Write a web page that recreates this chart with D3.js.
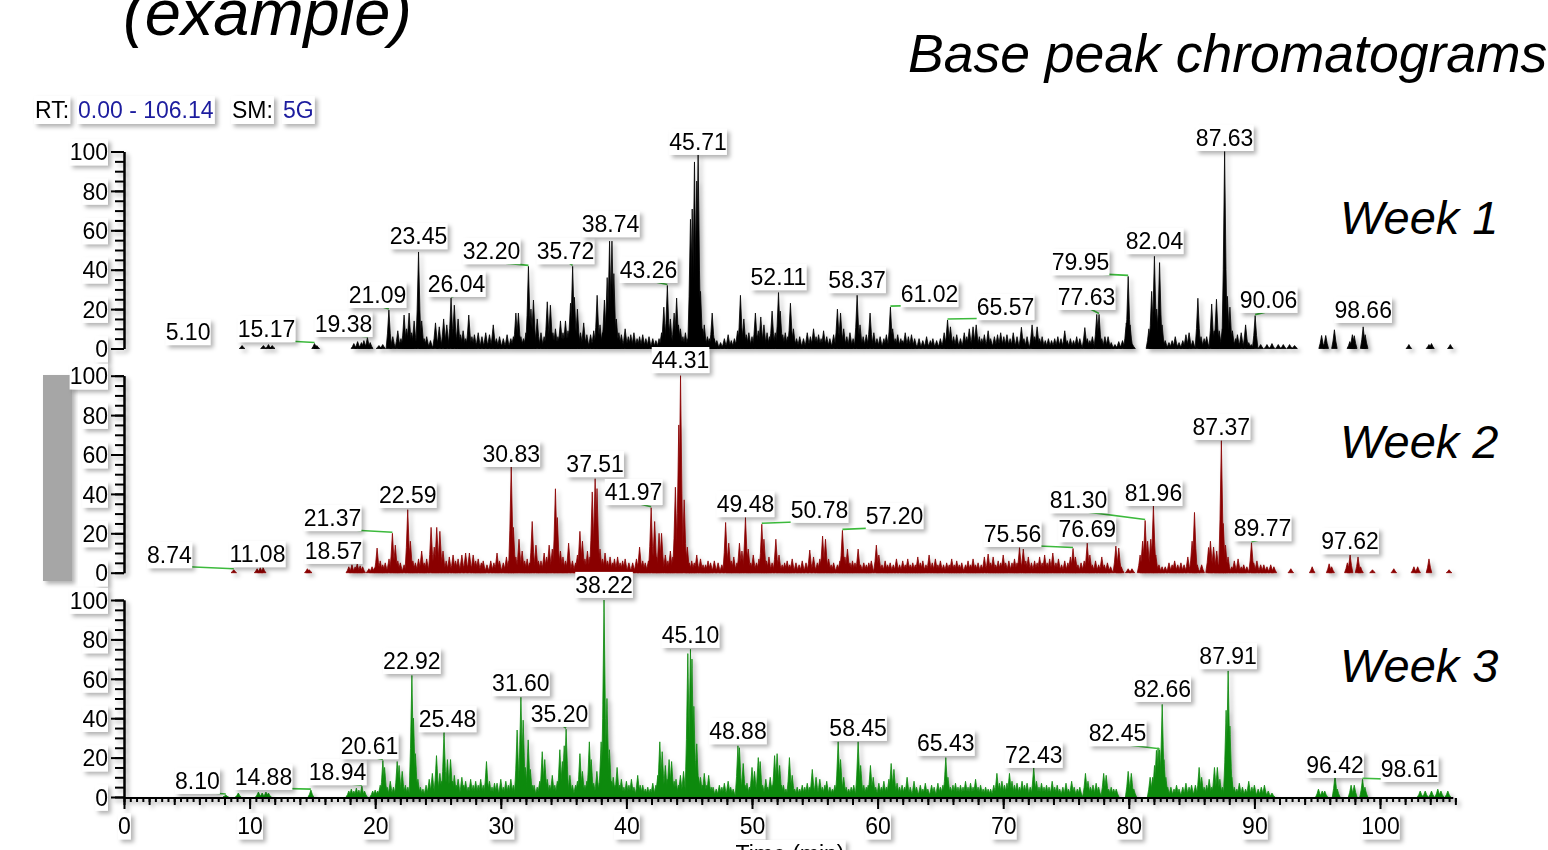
<!DOCTYPE html>
<html>
<head>
<meta charset="utf-8">
<script src="https://cdnjs.cloudflare.com/ajax/libs/d3/7.8.5/d3.min.js"></script>
<style>
  body { margin: 0; background: #fff; }
  svg { display: block; font-family: "Liberation Sans", Arial, sans-serif; }
</style>
</head>
<body>
<svg id="chart" width="1548" height="850"></svg>
<script>
// DATA: spikes are [retention time (min), relative abundance], labels are [peak rt, label centre rt, label level]
const rtStart = 0.00, rtEnd = 106.14;
const weekNames = ["Week 1", "Week 2", "Week 3"];
const weekColors = ["#000000", "#8a0000", "#0b8a0b"];
const yTicksMajor = [0, 20, 40, 60, 80, 100];
const xTickLabels = [0, 10, 20, 30, 40, 50, 60, 70, 80, 90, 100];

const week1Peaks = [[5.10,0],[9.4,1.5],[11.1,1.5],[11.5,2],[11.8,1.5],[15.17,2.5],[15.35,1.5],
[18.3,2.5],[18.6,3.5],[18.9,3],[19.1,4],[19.38,5.5],[19.6,3],[20.3,1.5],[20.6,2],
[21.09,19.5],[21.4,6],[21.8,9],[22.05,5],[22.3,17],[22.5,10],[22.7,18],[22.9,8],[23.1,14],[23.45,49],[23.7,14],[23.9,5],[24.1,6],[24.4,4],[24.8,13],[25.1,11],[25.45,15],[25.7,12],[26.04,25.6],[26.3,22],[26.6,15],[26.8,7],[27.0,9],[27.2,5],[27.45,17],[27.7,6],[27.9,7],[28.2,8],[28.5,6],[28.8,8],[29.1,7],[29.4,12],[29.65,5],[29.9,6],[30.2,5],[30.5,7],[30.8,5],[31.0,6],[31.2,18],[31.4,18],[31.6,6],[31.8,5],[32.0,8],[32.2,41.7],[32.4,20],[32.6,24.6],[32.9,15],[33.2,8],[33.45,6],[33.7,23.7],[33.95,22],[34.15,8],[34.35,10],[34.55,6],[34.75,14],[34.95,8],[35.15,14],[35.35,9],[35.55,23],[35.72,41.7],[35.86,26],[36.1,20],[36.35,8],[36.6,13],[36.85,7],[37.15,7],[37.4,9],[37.67,27],[37.9,12],[38.1,8],[38.25,24.6],[38.47,36],[38.66,54.5],[38.85,54.5],[39.0,38],[39.2,15],[39.4,8],[39.6,7],[39.9,10],[40.15,6],[40.35,7],[40.6,8],[40.85,5],[41.05,6],[41.3,7],[41.55,5],[41.8,6],[42.1,5],[42.35,4],[42.6,5],[42.8,8],[42.98,21],[43.26,32],[43.5,15],[43.8,18],[44.0,25.6],[44.15,12],[44.3,10],[44.5,6],[44.7,8],[44.9,5],[45.1,65.6],[45.24,70.8],[45.42,94.7],[45.6,85],[45.71,98.5],[45.9,29],[46.05,10],[46.2,12],[46.45,6],[46.6,5],[46.83,18],[47.0,5],[47.2,4],[47.5,3],[47.8,5],[48.1,7],[48.35,4],[48.6,5],[48.85,9],[49.08,27],[49.35,15],[49.55,7],[49.75,8],[50.0,6],[50.27,18],[50.5,9],[50.7,16],[50.95,12],[51.2,8],[51.4,6],[51.6,19],[51.85,8],[52.11,28.4],[52.25,19],[52.45,7],[52.65,8],[52.85,6],[53.06,23],[53.3,10],[53.55,5],[53.8,6],[54.1,5],[54.4,8],[54.65,6],[54.9,10],[55.1,6],[55.3,7],[55.5,5],[55.7,9],[55.95,6],[56.2,5],[56.5,7],[56.8,20],[57.05,18],[57.3,10],[57.55,6],[57.8,8],[58.05,5],[58.37,27],[58.6,12],[58.85,6],[59.1,7],[59.4,18],[59.7,8],[59.95,5],[60.2,6],[60.5,5],[60.7,7],[61.02,21],[61.2,10],[61.4,5],[61.6,7],[61.85,5],[62.0,4],[62.2,8],[62.45,6],[62.7,7],[62.95,5],[63.3,5],[63.6,4],[63.9,6],[64.2,4],[64.4,5],[64.7,4],[65.0,5],[65.3,8],[65.57,14.5],[65.8,11],[66.05,6],[66.3,7],[66.6,5],[66.9,8],[67.1,6],[67.3,10],[67.6,11],[67.85,12],[68.1,6],[68.3,5],[68.5,7],[68.8,9],[69.0,5],[69.3,6],[69.55,7],[69.8,8],[70.05,6],[70.3,7],[70.55,5],[70.8,8],[71.1,6],[71.45,10.8],[71.65,5],[71.9,6],[72.3,12],[72.5,6],[72.7,11],[72.9,5],[73.1,6],[73.35,4],[73.6,5],[73.85,4],[74.1,5],[74.35,6],[74.6,5],[74.9,9],[75.1,4],[75.35,5],[75.6,4],[75.85,6],[76.1,5],[76.5,10.6],[76.7,5],[76.9,4],[77.1,6],[77.45,17.3],[77.63,17.3],[77.85,5],[78.1,6],[78.35,6],[78.6,3],[78.9,2],[79.2,3.5],[79.5,4],[79.8,13],[79.95,36.6],[80.1,12],[80.3,2],
[81.6,10],[81.82,29],[82.04,46.8],[82.22,20],[82.45,43.6],[82.65,12],[82.9,4],[83.2,3],[83.45,4],[83.7,6],[84.0,3],[84.3,4],[84.55,7],[84.8,8],[85.1,4],[85.5,25.5],[85.75,6],[86.0,5],[86.2,6],[86.6,22.6],[86.8,9],[86.98,25],[87.2,9],[87.45,10],[87.63,100],[87.85,26.5],[88.05,21],[88.25,9],[88.5,5],[88.65,7],[88.95,8],[89.3,12],[89.55,3],[89.75,2],[90.06,16.7],[90.5,2],[91.0,2],[91.4,2.5],[91.9,2],[92.3,2],[92.8,2],[93.2,1.5],
[95.35,6.6],[95.68,6.6],[96.37,9.5],[97.6,3.5],[97.8,7],[97.95,6.5],[98.66,11],[98.82,7],[102.3,2],[103.9,2],[104.1,2.5],[105.6,2]];

const week2Peaks = [[8.74,1.5],[10.6,2],[10.85,2.5],[11.08,2.5],[14.6,2],[14.75,1.5],
[17.9,3],[18.15,4],[18.4,3],[18.57,4.5],[18.8,3.5],[19.0,3],[19.5,2],[19.75,3],[19.95,2.5],
[20.15,12.5],[20.4,6],[20.6,4],[20.8,5],[21.1,7],[21.37,20],[21.6,14],[21.8,6],[22.0,5],[22.3,4],[22.59,32],[22.8,16],[23.0,6],[23.2,5],[23.45,7],[23.7,11],[23.9,5],[24.1,7],[24.45,23],[24.7,13],[24.9,23],[25.15,21],[25.4,11],[25.65,6],[25.9,8],[26.2,9],[26.4,6],[26.6,7],[26.9,9],[27.2,10],[27.5,10],[27.8,9],[28.0,6],[28.2,7],[28.45,5],[28.6,6],[28.9,4],[29.2,6],[29.45,5],[29.7,10],[29.9,6],[30.2,5],[30.45,8],[30.65,6],[30.83,54],[31.0,23],[31.2,8],[31.45,17],[31.7,11],[31.9,6],[32.1,7],[32.3,5],[32.5,26],[32.8,14],[33.0,6],[33.2,6],[33.45,10],[33.65,8],[33.85,14],[34.1,12],[34.35,42.6],[34.5,28],[34.75,11],[34.95,8],[35.15,6],[35.4,15],[35.7,6],[35.95,5],[36.1,9],[36.3,21],[36.5,16],[36.7,7],[36.9,11],[37.1,8],[37.28,41],[37.51,47.7],[37.66,42.7],[37.9,12],[38.1,7],[38.3,10],[38.5,6],[38.7,8],[38.9,5],[39.05,7],[39.3,8],[39.5,5],[39.7,6],[39.9,7],[40.2,5],[40.5,5],[40.8,7],[41.05,13],[41.3,6],[41.5,5],[41.75,6],[41.97,33],[42.25,26],[42.4,8],[42.6,20],[42.8,20],[43.1,9],[43.3,6],[43.5,11],[43.7,8],[43.9,43.4],[44.17,75],[44.31,100],[44.6,37],[44.85,13],[45.0,5],[45.2,6],[45.4,5],[45.6,9],[45.9,7],[46.1,4],[46.3,4],[46.5,6],[46.7,5],[47.0,6],[47.3,5],[47.6,4],[47.9,25.5],[48.15,15],[48.35,6],[48.55,8],[48.8,5],[49.0,15],[49.2,11],[49.48,28],[49.7,12],[49.9,5],[50.1,9],[50.35,5],[50.55,7],[50.78,24.6],[50.95,17],[51.15,6],[51.35,8],[51.6,5],[51.9,17],[52.15,9],[52.4,4],[52.6,5],[52.8,6],[53.0,4],[53.2,7],[53.5,5],[53.75,4],[54.0,6],[54.3,5],[54.6,11.5],[54.9,8],[55.2,5],[55.4,7],[55.62,18.6],[55.85,17],[56.1,7],[56.3,4],[56.5,5],[56.8,4],[57.0,6],[57.2,21.5],[57.4,8],[57.6,12],[57.8,5],[58.0,6],[58.2,5],[58.45,12],[58.65,4],[58.9,5],[59.1,4],[59.3,5],[59.5,6],[59.9,14],[60.1,9],[60.35,4],[60.6,6],[60.8,4],[61.0,5],[61.25,4],[61.5,7],[61.75,4],[62.0,6],[62.2,4],[62.4,7],[62.6,4],[62.8,5],[63.0,4],[63.2,8],[63.4,5],[63.6,6],[63.85,4],[64.1,9],[64.35,5],[64.6,7],[64.8,4],[65.0,6],[65.25,4],[65.5,5],[65.7,4],[65.9,7],[66.1,4],[66.3,6],[66.5,4],[66.7,5],[67.0,4],[67.2,6],[67.4,4],[67.6,7],[67.8,4],[68.0,5],[68.25,4],[68.5,8],[68.8,9.5],[69.0,5],[69.2,8],[69.4,4],[69.6,6],[69.8,5],[70.0,9],[70.2,5],[70.45,6],[70.7,5],[70.9,7],[71.1,5],[71.3,12.7],[71.6,12],[71.8,6],[72.0,8],[72.25,5],[72.5,6],[72.7,5],[72.9,8],[73.1,5],[73.3,9],[73.5,5],[73.7,7],[73.95,10],[74.2,5],[74.4,7],[74.65,4],[74.9,6],[75.15,5],[75.35,8],[75.56,12.3],[75.75,8],[75.95,4],[76.2,5],[76.45,6],[76.69,15],[76.9,9],[77.1,4],[77.35,6],[77.6,4],[77.85,8],[78.05,4],[78.3,5],[78.55,3],[78.97,13.5],[79.2,12.5],[79.4,3],[79.95,2],[80.25,2],
[80.9,9],[81.1,16],[81.3,26.5],[81.5,16],[81.75,17],[81.96,34],[82.15,9],[82.4,4],[82.65,3],[82.9,3],[83.2,5],[83.45,4],[83.65,6],[83.9,4],[84.15,5],[84.4,4],[84.7,8],[85.04,16],[85.23,30.6],[85.45,4],[85.8,4],[86.35,12.8],[86.5,16],[86.75,13],[87.0,11],[87.15,4],[87.37,67],[87.52,25],[87.7,14],[87.9,8],[88.2,3],[88.4,6],[88.7,7],[88.95,3],[89.15,4],[89.4,3],[89.77,15.2],[89.95,5],[90.2,6],[90.5,4],[90.75,4],[91.0,3],[91.3,4],[91.55,3],
[92.9,2],[94.6,3],[95.95,4.5],[96.15,3],[97.4,5],[97.62,9],[98.25,8],[98.45,3],[99.4,1.5],[101.1,2],[102.7,3],[103.0,3],[103.9,7],[105.5,1.5]];

const week3Peaks = [[8.10,1],[9.1,2],[10.7,2.5],[11.0,2],[11.3,2.5],[11.5,2],[14.88,3.5],
[17.9,3],[18.1,4],[18.3,3],[18.5,4.5],[18.7,3.5],[18.94,5.5],[19.15,3],[19.8,3],[20.0,3.5],[20.2,3],
[20.4,6],[20.61,18.5],[20.75,15],[20.95,5],[21.2,8],[21.45,5],[21.75,18],[21.9,16],[22.15,13],[22.4,6],[22.6,5],[22.92,61.7],[23.05,40],[23.2,22],[23.4,9],[23.6,5],[23.8,4],[24.05,6],[24.3,9],[24.55,12],[24.88,21],[25.15,12],[25.3,8],[25.48,32.7],[25.75,19],[26.0,19],[26.15,8],[26.3,11],[26.45,6],[26.6,9],[26.9,10],[27.05,6],[27.2,8],[27.4,5],[27.6,9],[27.8,6],[28.0,8],[28.2,6],[28.4,9],[28.6,6],[28.86,18],[29.1,8],[29.3,5],[29.5,7],[29.7,7],[30.0,9],[30.2,5],[30.4,8],[30.6,6],[30.8,9],[31.0,6],[31.3,34],[31.6,50.6],[31.78,39],[31.95,15],[32.18,29],[32.35,14],[32.5,6],[32.65,6],[32.9,5],[33.1,8],[33.3,23],[33.5,19],[33.7,9],[33.9,6],[34.1,11],[34.3,6],[34.5,8],[34.7,24],[34.9,18],[35.05,26],[35.2,34.4],[35.5,11],[35.7,6],[35.95,6],[36.1,8],[36.3,22],[36.5,13],[36.7,6],[36.85,8],[37.05,28],[37.2,19],[37.4,7],[37.65,13],[37.85,7],[37.99,28],[38.22,100],[38.45,50],[38.65,24],[38.8,8],[38.95,10],[39.1,6],[39.26,15],[39.45,6],[39.6,9],[39.8,5],[40.0,8],[40.2,6],[40.4,9],[40.6,5],[40.9,11],[41.1,6],[41.3,6],[41.5,4],[41.7,5],[41.9,4],[42.1,7],[42.35,6],[42.5,11],[42.66,28],[42.85,23],[43.1,16],[43.25,9],[43.4,19],[43.6,18],[43.8,8],[43.95,9],[44.15,6],[44.3,11],[44.55,13],[44.89,72.8],[45.1,75],[45.22,70],[45.37,46],[45.6,27],[45.75,10],[45.9,10],[46.05,6],[46.2,12],[46.4,6],[46.55,11],[46.75,5],[46.9,5],[47.15,4],[47.4,6],[47.6,5],[47.8,7],[48.1,8],[48.3,5],[48.5,4],[48.88,26],[49.0,25],[49.3,17],[49.45,6],[49.6,7],[49.8,5],[50.0,15],[50.2,13],[50.5,20],[50.65,18],[50.85,6],[51.1,9],[51.25,5],[51.45,10],[51.6,6],[51.8,21],[52.0,22],[52.2,16],[52.35,6],[52.5,6],[52.7,4],[52.98,20],[53.2,11],[53.4,4],[53.6,5],[53.8,4],[54.0,6],[54.2,5],[54.4,7],[54.6,5],[54.8,14],[55.1,10],[55.4,9],[55.6,5],[55.8,6],[55.95,8],[56.2,5],[56.4,4],[56.6,6],[56.86,28],[57.05,19],[57.3,10],[57.5,5],[57.7,4],[57.9,5],[58.1,6],[58.45,28],[58.65,16],[58.9,6],[59.1,5],[59.25,6],[59.43,16],[59.65,10],[59.85,5],[60.1,7],[60.3,5],[60.5,8],[60.7,5],[60.9,9],[61.08,17],[61.3,14],[61.55,7],[61.75,5],[61.95,6],[62.15,5],[62.35,10],[62.6,5],[62.9,8],[63.1,5],[63.4,6],[63.6,4],[63.8,7],[64.0,4],[64.3,6],[64.5,5],[64.8,7],[65.0,5],[65.2,6],[65.43,20],[65.6,10],[65.8,5],[66.0,6],[66.2,7],[66.4,5],[66.6,6],[66.8,5],[67.0,8],[67.2,5],[67.4,7],[67.6,5],[67.8,9],[68.0,5],[68.2,6],[68.4,4],[68.6,5],[68.8,4],[69.0,4],[69.25,6],[69.5,12],[69.7,7],[69.9,8],[70.1,6],[70.3,7],[70.5,12],[70.7,8],[70.9,6],[71.1,7],[71.3,5],[71.5,8],[71.7,6],[71.9,7],[72.15,5],[72.43,15],[72.65,8],[72.85,5],[73.05,7],[73.25,5],[73.45,6],[73.65,5],[73.9,8],[74.1,5],[74.3,6],[74.5,4],[74.75,5],[75.0,7],[75.2,4],[75.45,8],[75.65,5],[75.9,4],[76.1,5],[76.55,12],[76.75,8],[76.95,5],[77.15,6],[77.4,7],[77.6,5],[78.0,12],[78.2,11],[78.4,4],[78.6,5],[78.8,4],[79.0,4],[79.95,13],[80.2,12],[80.4,4],
[81.7,10],[81.9,10],[82.05,16],[82.2,23.7],[82.33,25],[82.45,24],[82.66,47],[82.8,19],[82.95,10],[83.1,5],[83.35,5],[83.6,4],[83.8,6],[84.0,4],[84.3,5],[84.55,7],[84.8,5],[85.0,6],[85.3,6],[85.6,15],[85.8,10],[86.0,5],[86.2,6],[86.4,9],[86.6,5],[86.82,15],[87.05,15],[87.25,9],[87.45,5],[87.75,44],[87.91,64],[88.05,36],[88.2,10],[88.4,5],[88.6,4],[88.8,7],[89.05,5],[89.3,4],[89.55,8],[89.8,5],[90.0,6],[90.3,4],[90.55,5],[90.8,6],[91.1,3],[91.4,2],
[95.1,4],[95.4,3],[95.6,3],[96.42,11],[96.6,4],[97.7,6],[97.95,6],[98.61,9],[98.8,5],[103.2,3],[103.6,3],[104.1,3],[104.6,4],[104.85,3],[105.4,3]];

const week1Labels = [[5.10,5.10,4.3],[15.17,11.35,5.8],[19.38,17.48,8.4],[21.09,20.18,23.1],[23.45,23.45,53.0],[26.04,26.47,28.7],[32.20,29.26,45.4],[35.72,35.15,45.4],[38.74,38.74,59.1],[43.26,41.76,35.8],[45.71,45.71,100.8],[52.11,52.11,32.2],[58.37,58.37,30.7],[61.02,64.13,23.6],[65.57,70.18,17.0],[77.63,76.63,22.1],[79.95,76.15,39.8],[82.04,82.04,50.5],[87.63,87.63,102.8],[90.06,91.12,20.6],[98.66,98.66,15.5]];
const week2Labels = [[8.74,3.62,4.9],[11.08,10.63,5.4],[18.57,16.68,7.0],[21.37,16.6,23.7],[22.59,22.59,35.4],[30.83,30.83,56.2],[37.51,37.51,51.1],[41.97,40.57,36.9],[44.31,44.31,103.9],[49.48,49.48,30.8],[50.78,55.37,27.8],[57.20,61.35,24.7],[75.56,70.74,15.6],[76.69,76.69,18.1],[81.30,76.0,32.8],[81.96,81.96,36.4],[87.37,87.37,69.9],[89.77,90.64,18.6],[97.62,97.62,12.0]];
const week3Labels = [[8.10,5.85,4.1],[14.88,11.1,6.1],[18.94,17.0,8.6],[20.61,19.55,21.8],[22.92,22.92,65.0],[25.48,25.76,35.5],[31.60,31.60,53.8],[35.20,34.67,38.1],[38.22,38.22,103.6],[45.10,45.10,78.2],[48.88,48.88,29.4],[58.45,58.45,31.0],[65.43,65.43,23.4],[72.43,72.43,17.3],[82.45,79.1,28.4],[82.66,82.66,50.8],[87.91,87.91,67.5],[96.42,96.42,12.2],[98.61,102.35,10.2]];

const weekPeaks = [week1Peaks, week2Peaks, week3Peaks];
const weekLabels = [week1Labels, week2Labels, week3Labels];

// LAYOUT
const panelBase = [348.5, 572.7, 797];
const panelH = 197;
const svg = d3.select("#chart");

const defs = svg.append("defs");
const shadow = defs.append("filter").attr("id", "shadow")
    .attr("x", "-10%").attr("y", "-10%").attr("width", "130%").attr("height", "140%");
shadow.append("feDropShadow").attr("dx", 3).attr("dy", 3).attr("stdDeviation", 2)
    .attr("flood-color", "#000").attr("flood-opacity", 0.3);

const x = d3.scaleLinear().domain([rtStart, rtEnd]).range([124, 124 + (rtEnd - rtStart) * 12.56]);

// white box behind a text element
function boxify(textSel, pad) {
    textSel.each(function () {
        const bb = this.getBBox();
        d3.select(this.parentNode).insert("rect", () => this)
            .attr("x", bb.x - pad).attr("y", bb.y - pad)
            .attr("width", bb.width + 2 * pad).attr("height", bb.height + 2 * pad)
            .attr("fill", "#fff");
    });
}

// titles
svg.append("text").attr("x", 123).attr("y", 35)
    .style("font-size", "65px").style("font-style", "italic").text("(example)");
svg.append("text").attr("x", 908).attr("y", 72)
    .style("font-size", "53.5px").style("font-style", "italic").text("Base peak chromatograms");

// RT / SM header
const header = [["RT:", 35, "#000"], ["0.00 - 106.14", 78, "#1c1c9e"], ["SM:", 232, "#000"], ["5G", 283, "#1c1c9e"]];
header.forEach(([t, hx, c]) => {
    const g = svg.append("g").attr("filter", "url(#shadow)");
    const tx = g.append("text").attr("x", hx).attr("y", 118).attr("fill", c)
        .style("font-size", "23px").text(t);
    boxify(tx, 1);
});

// gray side bar
svg.append("rect").attr("x", 43).attr("y", 375).attr("width", 29).attr("height", 206)
    .attr("fill", "#a6a6a6").attr("filter", "url(#shadow)");

const spikeW = 0.22;
function spikePoints(d) {
    const rt = d[0], h = d[1];
    return [[rt - spikeW, 0], [rt - spikeW * 0.5, h * 0.4], [rt, h], [rt + spikeW * 0.5, h * 0.4], [rt + spikeW, 0]];
}

weekNames.forEach((name, i) => {
    const y = d3.scaleLinear().domain([0, 100]).range([panelBase[i], panelBase[i] - panelH]);
    const panel = svg.append("g");
    const color = weekColors[i];

    // trace
    const line = d3.line().x(d => x(d[0])).y(d => y(d[1]));
    panel.append("g").attr("filter", "url(#shadow)")
        .selectAll("path")
        .data(weekPeaks[i].filter(d => d[1] > 0))
        .enter()
        .append("path")
        .attr("d", d => line(spikePoints(d)) + "Z")
        .attr("fill", color)
        .attr("stroke", color)
        .attr("stroke-width", 0.8);

    // y axis
    const yAxisG = panel.append("g").attr("filter", "url(#shadow)")
        .attr("transform", `translate(${x(0)},0)`);
    yAxisG.append("g")
        .call(d3.axisLeft(y).tickValues(d3.range(0, 101, 5)).tickSize(9).tickSizeOuter(0).tickFormat(""));
    const major = yAxisG.append("g")
        .call(d3.axisLeft(y).tickValues(yTicksMajor).tickSize(13).tickSizeOuter(0).tickPadding(3));
    yAxisG.selectAll("line, path").attr("stroke", "#000").attr("stroke-width", 2);
    major.selectAll("text").style("font-size", "23px").style("font-family", "Liberation Sans, Arial, sans-serif")
        .attr("fill", "#000").attr("dy", "0.36em");
    boxify(major.selectAll("text"), 0);

    // baseline / x axis
    if (i < 2) {
        panel.append("line").attr("filter", "url(#shadow)")
            .attr("x1", x(rtStart)).attr("x2", x(rtEnd) - 4)
            .attr("y1", y(0)).attr("y2", y(0))
            .attr("stroke", "#000").attr("stroke-width", 2);
    } else {
        const xAxisG = panel.append("g").attr("filter", "url(#shadow)")
            .attr("transform", `translate(0,${y(0) + 1})`);
        xAxisG.append("g").call(d3.axisBottom(x).tickValues(d3.range(0, 106.1, 0.5)).tickSize(4).tickSizeOuter(0).tickFormat(""));
        xAxisG.append("g").call(d3.axisBottom(x).tickValues(d3.range(0, 106.1, 2)).tickSize(7).tickSizeOuter(0).tickFormat(""));
        const xm = xAxisG.append("g").call(d3.axisBottom(x).tickValues(xTickLabels).tickSize(11).tickSizeOuter(0).tickPadding(9));
        xAxisG.selectAll("line, path").attr("stroke", "#000").attr("stroke-width", 2);
        xAxisG.selectAll("path").attr("d", `M${x(rtStart)},0H${x(rtEnd) - 4}`);
        xm.selectAll("text").style("font-size", "23px").style("font-family", "Liberation Sans, Arial, sans-serif").attr("fill", "#000");
        boxify(xm.selectAll("text"), 0);

        const tl = svg.append("g").attr("filter", "url(#shadow)");
        const tt = tl.append("text").attr("x", 790).attr("y", 862).attr("text-anchor", "middle")
            .style("font-size", "23px").text("Time (min)");
        boxify(tt, 1);
    }

    // peak labels with green leader lines
    weekLabels[i].forEach(([rt, lrt, lv]) => {
        const pk = weekPeaks[i].find(p => p[0] === rt);
        const ph = pk ? pk[1] : 0;
        const tx = x(lrt), ty = y(lv);
        if (Math.abs(lrt - rt) > 0.05) {
            panel.append("line")
                .attr("x1", tx + 2).attr("y1", ty + 3)
                .attr("x2", x(rt)).attr("y2", y(ph) - 1)
                .attr("stroke", "#3cba3c").attr("stroke-width", 1.6);
        }
        const lg = panel.append("g").attr("filter", "url(#shadow)");
        const t = lg.append("text").attr("x", tx).attr("y", ty).attr("text-anchor", "middle")
            .style("font-size", "23px").attr("fill", "#000").text(rt.toFixed(2));
        boxify(t, 0);
    });

    // week name
    svg.append("text").attr("x", 1340).attr("y", panelBase[i] - 115)
        .style("font-size", "47px").style("font-style", "italic").text(name);
});
</script>
</body>
</html>
